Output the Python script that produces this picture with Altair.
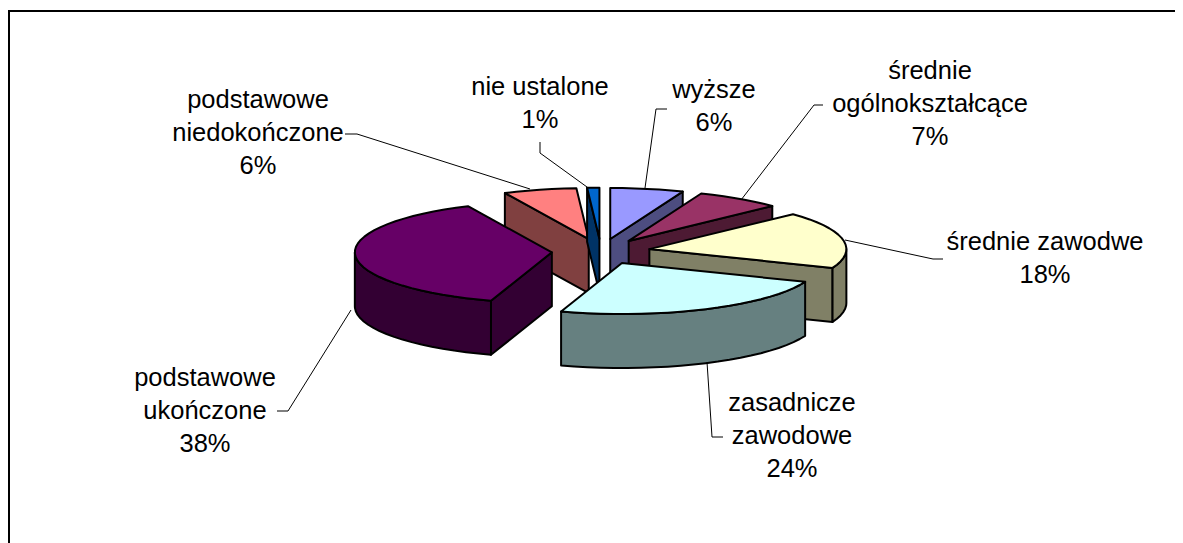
import math
import altair as alt

# ---- chart values ----
categories = ["wyższe", "średnie ogólnokształcące", "średnie zawodwe", "zasadnicze zawodowe",
              "podstawowe ukończone", "podstawowe niedokończone", "nie ustalone"]
percent = [6, 7, 18, 24, 38, 6, 1]
top_colors = ["#9999FF", "#993366", "#FFFFCC", "#CCFFFF", "#660066", "#FF8080", "#0066CC"]
side_colors = ["#4D4D80", "#4D1A33", "#808066", "#668080", "#330033", "#804040", "#003366"]
draw_order = [5, 6, 0, 1, 2, 4, 3]

label_lines = [["wyższe", "6%"], ["średnie", "ogólnokształcące", "7%"], ["średnie zawodwe", "18%"],
               ["zasadnicze", "zawodowe", "24%"], ["podstawowe", "ukończone", "38%"],
               ["podstawowe", "niedokończone", "6%"], ["nie ustalone", "1%"]]
label_x = [714, 930, 1045, 792, 205, 258, 540]
label_y = [90, 71, 242, 403, 378, 100, 87]

# leader polylines, page pixels
leader_x = [[667, 656, 645], [823, 814, 741], [943, 933, 845], [723, 712, 707], [277, 288, 351],
            [345, 357, 530], [540, 540, 587]]
leader_y = [[109, 109, 188], [105, 105, 200], [259, 259, 240], [437, 437, 362], [411, 411, 310],
            [134, 134, 189], [142, 153, 187]]

# ---- pie geometry ----
CX, CY, RX, RY, DEPTH, EXPLODE = 601, 251.5, 197, 51, 54, 0.25
OX, OY = 8, 8  # page margin
W, H = 1167, 535


def pt(deg, r=1.0):
    a = math.radians(deg)
    return (r * RX * math.sin(a), -r * RY * math.cos(a))


def feature(points, fill):
    ring = [[x - OX, y - OY] for x, y in points]
    ring.append(ring[0])
    ring = ring[::-1]
    return {"type": "Feature", "properties": {"fill": fill},
            "geometry": {"type": "Polygon", "coordinates": [ring]}}


def down(points):
    return points + [(x, y + DEPTH) for x, y in reversed(points)]


features = []
starts = [sum(percent[:i]) * 3.6 for i in range(len(percent))]
for i in draw_order:
    a0 = starts[i]
    a1 = a0 + percent[i] * 3.6
    mx, my = pt((a0 + a1) / 2, EXPLODE)
    ax, ay = CX + mx, CY + my
    n = max(2, int((a1 - a0) / 4) + 1)
    angles = [a0 + (a1 - a0) * k / n for k in range(n + 1)]
    arc = [(ax + pt(t)[0], ay + pt(t)[1]) for t in angles]
    top = [(ax, ay)] + arc
    # radial faces facing the viewer
    if arc[0][0] < ax - 0.01:
        features.append(feature(down([(ax, ay), arc[0]]), side_colors[i]))
    if arc[-1][0] > ax + 0.01:
        features.append(feature(down([arc[-1], (ax, ay)]), side_colors[i]))
    # outer wall, where the arc runs right to left on screen
    front = [t for t in angles if 90 <= t <= 270]
    if a0 < 90 < a1:
        front = [90] + front
    if a0 < 270 < a1:
        front = front + [270]
    if len(front) >= 2:
        wall = [(ax + pt(t)[0], ay + pt(t)[1]) for t in front]
        features.append(feature(down(wall), side_colors[i]))
    features.append(feature(top, top_colors[i]))

pie = alt.Chart(alt.Data(values=features)).mark_geoshape(stroke="black", strokeWidth=2, strokeJoin="round").encode(
    fill=alt.Fill("properties.fill:N", scale=None)
).project(type="identity", scale=1, translate=[0, 0])

xs = alt.Scale(domain=[0, W], range=[0, W])
ys = alt.Scale(domain=[0, H], range=[0, H])
no_axis_x = alt.X("x:Q", scale=xs, axis=None)
no_axis_y = alt.Y("y:Q", scale=ys, axis=None)

leader_rows = []
for i, (lx, ly) in enumerate(zip(leader_x, leader_y)):
    for k, (a, b) in enumerate(zip(lx, ly)):
        leader_rows.append({"g": i, "k": k, "x": a - OX, "y": b - OY})
leaders = alt.Chart(alt.Data(values=leader_rows)).mark_line(color="black", strokeWidth=1).encode(
    x=no_axis_x, y=no_axis_y, detail="g:N", order="k:Q")

label_rows = [{"x": x - OX, "y": y - OY, "t": t}
              for x, y, t in zip(label_x, label_y, label_lines)]
labels = alt.Chart(alt.Data(values=label_rows)).mark_text(
    font="Liberation Sans", fontSize=25.5, color="black", align="center", baseline="middle", lineHeight=33
).encode(x=no_axis_x, y=no_axis_y, text="t:N")

border_rows = [{"k": 0, "x": 1, "y": H + 20}, {"k": 1, "x": 1, "y": 3}, {"k": 2, "x": W + 20, "y": 3}]
border = alt.Chart(alt.Data(values=border_rows)).mark_line(color="black", strokeWidth=2, clip=True).encode(
    x=no_axis_x, y=no_axis_y, order="k:Q")

chart = alt.layer(border, pie, leaders, labels).resolve_scale(x="shared", y="shared").properties(
    width=W, height=H, padding=0, background="white"
).configure_view(stroke=None)

chart.save("out.html", embed_options={"renderer": "svg", "actions": False})
